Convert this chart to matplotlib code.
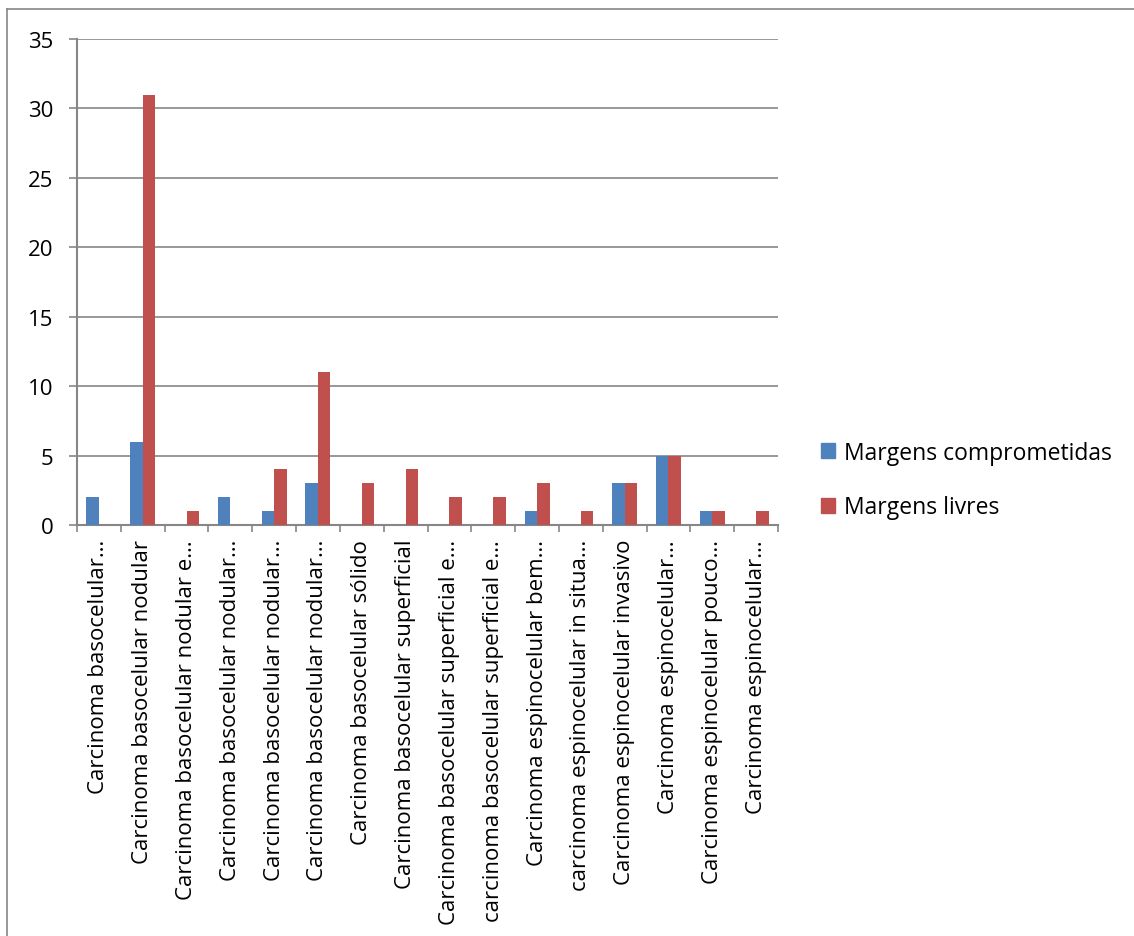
import numpy as np
import matplotlib.pyplot as plt
from matplotlib.lines import Line2D
from matplotlib.patches import Patch

plt.rcParams['font.family'] = ['Open Sans', 'DejaVu Sans']

categories = [
    'Carcinoma basocelular…',
    'Carcinoma basocelular nodular',
    'Carcinoma basocelular nodular e…',
    'Carcinoma basocelular nodular…',
    'Carcinoma basocelular nodular…',
    'Carcinoma basocelular nodular…',
    'Carcinoma basocelular sólido',
    'Carcinoma basocelular superficial',
    'Carcinoma basocelular superficial e…',
    'carcinoma basocelular superficial e…',
    'Carcinoma espinocelular bem…',
    'carcinoma espinocelular in situa…',
    'Carcinoma espinocelular invasivo',
    'Carcinoma espinocelular…',
    'Carcinoma espinocelular pouco…',
    'Carcinoma espinocelular…',
]
comprometidas = [2, 6, 0, 2, 1, 3, 0, 0, 0, 0, 1, 0, 3, 5, 1, 0]
livres = [0, 31, 1, 0, 4, 11, 3, 4, 2, 2, 3, 1, 3, 5, 1, 1]
series_names = ['Margens comprometidas', 'Margens livres']

blue = '#4F81BD'
red = '#C0504D'
grey = '#868686'
fs = 16

W, H = 1134, 937
fig = plt.figure(figsize=(W / 100, H / 100), dpi=100)
ax = fig.add_axes([77 / W, 1 - 526 / H, (778 - 77) / W, (526 - 40) / H])

x = np.arange(len(categories))
bw = 1 / 3.5
ax.bar(x - bw / 2, comprometidas, width=bw, color=blue, edgecolor='none', zorder=3)
ax.bar(x + bw / 2, livres, width=bw, color=red, edgecolor='none', zorder=3)

ax.set_xlim(-0.5, len(categories) - 0.5)
ax.set_ylim(0, 35)
ax.set_yticks(range(0, 36, 5))
ax.yaxis.grid(True, color=grey, linewidth=1.2, zorder=0)

ax.set_xticks(x)
ax.set_xticklabels(categories, rotation=90, fontsize=fs)
ax.set_xticks(np.arange(-0.5, len(categories)), minor=True)
ax.tick_params(axis='x', which='major', length=0, pad=10)
ax.tick_params(axis='x', which='minor', length=5, width=1.2, color=grey)
ax.tick_params(axis='y', length=6, width=1.2, color=grey, pad=11, labelsize=fs)

for side in ['top', 'right']:
    ax.spines[side].set_visible(False)
for side in ['left', 'bottom']:
    ax.spines[side].set_color(grey)
    ax.spines[side].set_linewidth(1.5)

handles = [Patch(color=blue), Patch(color=red)]
fig.legend(handles, series_names, loc='center left',
           bbox_to_anchor=(821 / W, 1 - 481 / H), frameon=False, fontsize=16.5,
           handlelength=0.6, handleheight=0.6, handletextpad=0.4,
           labelspacing=1.35, borderpad=0, borderaxespad=0)

# chart frame on the left and top
fig.add_artist(Line2D([7 / W, 7 / W], [0, 1 - 10 / H], color=grey, linewidth=1.2))
fig.add_artist(Line2D([7 / W, 1], [1 - 10 / H, 1 - 10 / H], color=grey, linewidth=1.2))

fig.savefig('out.png', dpi=100)
